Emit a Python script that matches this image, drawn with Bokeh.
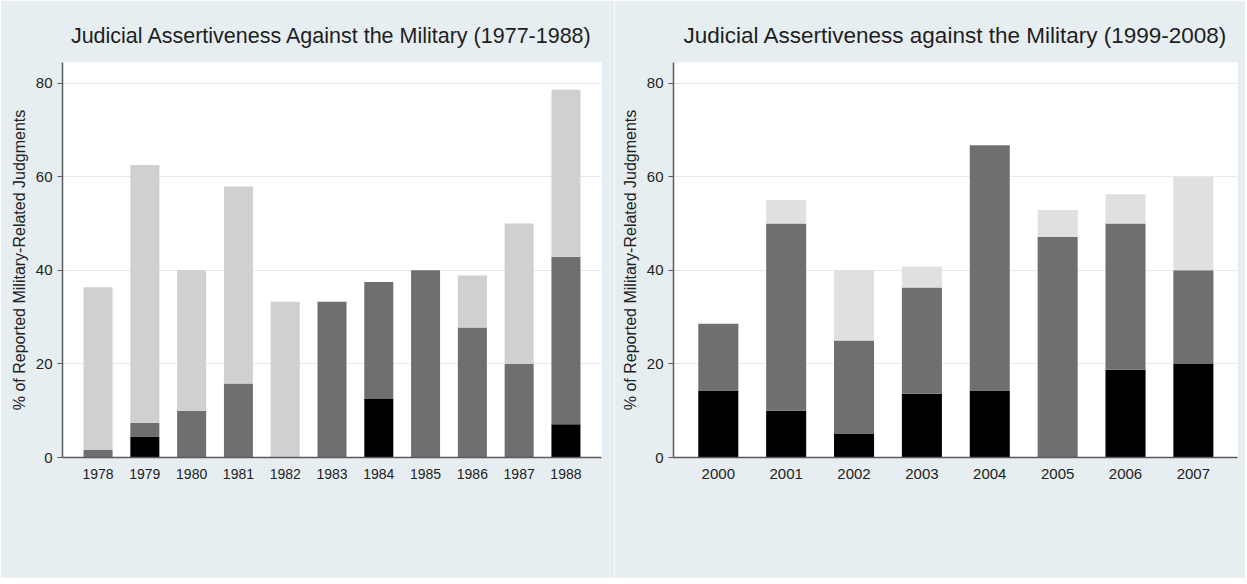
from bokeh.plotting import figure
from bokeh.models import ColumnDataSource, Legend, LegendItem, FixedTicker, Range1d
from bokeh.layouts import gridplot
from bokeh.embed import file_html
from bokeh.resources import INLINE

# ---- data: 1977-1988 panel ----
years_a = [1978, 1979, 1980, 1981, 1982, 1983, 1984, 1985, 1986, 1987, 1988]
security_a = [0.0, 4.5, 0.0, 0.0, 0.0, 0.0, 12.5, 0.0, 0.0, 0.0, 7.1]
economic_a = [1.6, 2.9, 10.0, 15.8, 0.0, 33.3, 25.0, 40.0, 27.8, 20.0, 35.8]
political_a = [34.8, 55.1, 30.0, 42.1, 33.3, 0.0, 0.0, 0.0, 11.1, 30.0, 35.7]

# ---- data: 1999-2008 panel ----
years_b = [2000, 2001, 2002, 2003, 2004, 2005, 2006, 2007]
security_b = [14.3, 10.0, 5.0, 13.6, 14.3, 0.0, 18.75, 20.0]
economic_b = [14.3, 40.0, 20.0, 22.7, 52.4, 47.1, 31.25, 20.0]
political_b = [0.0, 5.0, 15.0, 4.5, 0.0, 5.8, 6.25, 20.0]

y_ticks = [0, 20, 40, 60, 80]
series_labels = ["Security Prerogatives", "Economic Prerogatives",
                 "Political and Policymaking Prerogatives"]
title_a = "Judicial Assertiveness Against the Military (1977-1988)"
title_b = "Judicial Assertiveness against the Military (1999-2008)"
y_label = "% of Reported Military-Related Judgments"

FONT = "Liberation Sans"
BG = "#e6eef1"
C_SEC = "#000000"
C_ECO = "#6f6f6f"
H = 578


def make_panel(title, years, sec, eco, pol, pol_color, width, b_left, b_right,
               pad_l, pad_r, bar_w, fs_title, fs_tick, fs_leg, leg_x):
    p = figure(width=width, height=H, output_backend="svg", toolbar_location=None,
               x_range=Range1d(years[0] - pad_l, years[-1] + pad_r),
               y_range=Range1d(0, 84.4),
               min_border_left=b_left, min_border_right=b_right,
               min_border_top=62, min_border_bottom=H - 62 - 395)
    p.title.text = title
    p.title.align = "center"
    p.title.text_font = FONT
    p.title.text_font_size = fs_title
    p.title.text_font_style = "normal"
    p.title.text_color = "#1e1e1e"
    p.title.standoff = 30
    p.border_fill_color = BG
    p.background_fill_color = "white"
    p.outline_line_color = None

    src = ColumnDataSource(dict(year=years, security=sec, economic=eco, political=pol))
    rs = p.vbar_stack(["security", "economic", "political"], x="year", width=bar_w,
                      color=[C_SEC, C_ECO, pol_color], line_color=None, source=src)

    p.xgrid.grid_line_color = None
    p.ygrid.grid_line_color = "#e2ebee"

    xa = p.xaxis[0]
    xa.ticker = FixedTicker(ticks=years)
    xa.major_tick_line_color = None
    xa.minor_tick_line_color = None
    xa.axis_line_color = "#5a5a5a"
    xa.axis_line_width = 1.5
    xa.major_label_text_font = FONT
    xa.major_label_text_font_size = fs_tick
    xa.major_label_text_color = "#222222"

    ya = p.yaxis[0]
    ya.ticker = FixedTicker(ticks=y_ticks)
    ya.minor_tick_line_color = None
    ya.major_tick_out = 5
    ya.major_tick_in = 0
    ya.major_tick_line_color = "#5a5a5a"
    ya.axis_line_color = "#5a5a5a"
    ya.axis_line_width = 1.5
    ya.major_label_text_font = FONT
    ya.major_label_text_font_size = "15px"
    ya.major_label_text_color = "#222222"
    ya.axis_label = y_label
    ya.axis_label_text_font = FONT
    ya.axis_label_text_font_size = "16px"
    ya.axis_label_text_font_style = "normal"
    ya.axis_label_text_color = "#222222"

    # column-major grid: first column Security / Political, second column Economic
    order = [0, 2, 1]
    items = [LegendItem(label=series_labels[i], renderers=[rs[i]]) for i in order]
    # legend kept in the plot's centre layer, offset in screen pixels to sit below the axis
    leg = Legend(items=items, orientation="vertical", nrows=2, location=(leg_x, -105),
                 padding=8, spacing=7,
                 glyph_width=50, glyph_height=21, label_height=21, label_standoff=8,
                 label_text_font=FONT, label_text_font_size=fs_leg, label_text_color="#222222",
                 border_line_color="#666666", border_line_width=1.5,
                 background_fill_color="white", background_fill_alpha=1.0)
    p.add_layout(leg, "center")
    return p


p1 = make_panel(title_a, years_a, security_a, economic_a, political_a, "#d0d0d0",
                614, 62, 13, 0.76, 0.76, 0.62, "21.5px", "14px", "14.5px", 5)
p2 = make_panel(title_b, years_b, security_b, economic_b, political_b, "#e0e0e0",
                631, 59, 8, 0.66, 0.65, 0.59, "22.5px", "15px", "15px", 8)

layout = gridplot([[p1, p2]], toolbar_location=None)
open("out.html", "w").write(file_html(layout, INLINE))
